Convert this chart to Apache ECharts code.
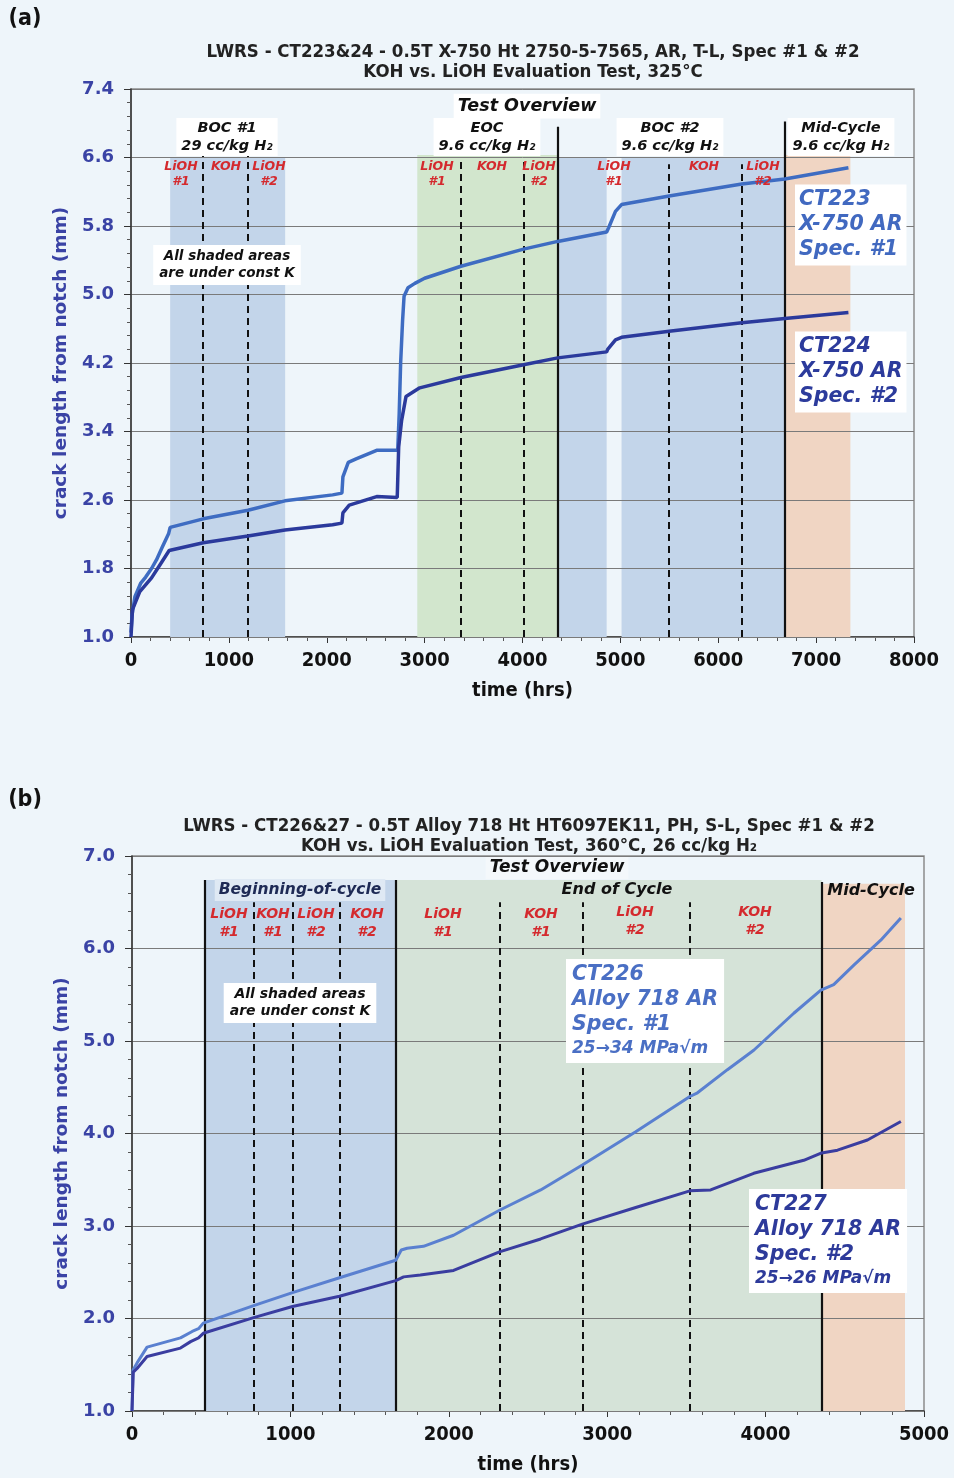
<!DOCTYPE html>
<html><head><meta charset="utf-8">
<script src="https://cdn.jsdelivr.net/npm/echarts@6/dist/echarts.min.js"></script>
<style>html,body{margin:0;padding:0;background:#eef5fa}#c{width:954px;height:1478px}</style>
</head><body><div id="c"></div>
<script>
// ---------------- Panel (a) data ----------------
const hrsCT223 = [0, 10, 40, 100, 150, 210, 260, 320, 385, 400, 738, 1195, 1573, 2060, 2155, 2165, 2220, 2300, 2510, 2725, 2740, 2755, 2775, 2790, 2830, 2900, 3000, 3371, 4011, 4360, 4860, 4880, 4950, 5012, 5498, 6241, 6680, 7330];
const mmCT223  = [1.05, 1.25, 1.47, 1.63, 1.70, 1.80, 1.90, 2.05, 2.21, 2.28, 2.38, 2.48, 2.59, 2.66, 2.68, 2.87, 3.04, 3.08, 3.18, 3.18, 3.60, 4.20, 4.70, 4.98, 5.08, 5.13, 5.19, 5.33, 5.53, 5.62, 5.73, 5.78, 5.97, 6.05, 6.15, 6.29, 6.35, 6.48];
const hrsCT224 = [0, 15, 90, 210, 300, 390, 738, 1195, 1573, 2060, 2155, 2165, 2230, 2510, 2720, 2735, 2765, 2810, 2950, 3371, 4011, 4360, 4860, 4870, 4950, 5012, 5498, 6241, 6680, 7330];
const mmCT224  = [1.0, 1.32, 1.53, 1.69, 1.85, 2.01, 2.10, 2.18, 2.25, 2.31, 2.33, 2.45, 2.54, 2.64, 2.63, 3.22, 3.53, 3.81, 3.91, 4.03, 4.18, 4.26, 4.33, 4.36, 4.47, 4.50, 4.57, 4.67, 4.72, 4.79];
const xTicksA = ['0', '1000', '2000', '3000', '4000', '5000', '6000', '7000', '8000'];
const yTicksA = ['1.0', '1.8', '2.6', '3.4', '4.2', '5.0', '5.8', '6.6', '7.4'];
// shaded periods: [start hrs, end hrs, top mm, kind]
const periodsA = [[400, 1575, 6.6, 'blue'], [2925, 4360, 6.63, 'green'], [4360, 4860, 6.6, 'blue'], [5012, 6680, 6.6, 'blue'], [6680, 7350, 6.63, 'orange']];
const dashedA = [[738, 6.63], [1195, 6.63], [3371, 6.57], [4011, 6.57], [5498, 6.52], [6241, 6.52]];
const solidA = [[4360, 6.96], [6680, 7.02]];

// ---------------- Panel (b) data ----------------
const hrsCT226 = [0, 6, 32, 95, 306, 380, 420, 450, 768, 1013, 1310, 1665, 1700, 1737, 1840, 2030, 2320, 2580, 2843, 3180, 3522, 3570, 3759, 3925, 4178, 4349, 4430, 4557, 4727, 4854];
const mmCT226  = [1.0, 1.44, 1.52, 1.69, 1.79, 1.86, 1.89, 1.95, 2.14, 2.28, 2.44, 2.63, 2.74, 2.76, 2.78, 2.90, 3.17, 3.39, 3.66, 4.02, 4.40, 4.44, 4.69, 4.90, 5.30, 5.55, 5.61, 5.82, 6.09, 6.33];
const hrsCT227 = [0, 8, 32, 95, 306, 370, 420, 450, 768, 1013, 1310, 1665, 1715, 1820, 2030, 2320, 2580, 2843, 3180, 3522, 3653, 3925, 4241, 4354, 4454, 4643, 4854];
const mmCT227  = [1.0, 1.42, 1.46, 1.59, 1.68, 1.75, 1.79, 1.84, 2.01, 2.13, 2.24, 2.41, 2.45, 2.47, 2.52, 2.72, 2.86, 3.02, 3.20, 3.38, 3.39, 3.57, 3.71, 3.79, 3.82, 3.93, 4.13];
const xTicksB = ['0', '1000', '2000', '3000', '4000', '5000'];
const yTicksB = ['1.0', '2.0', '3.0', '4.0', '5.0', '6.0', '7.0'];
const periodsB = [[460, 1665, 6.74, 'blue'], [1665, 4354, 6.74, 'greenB'], [4354, 4880, 6.7, 'orange']];
const dashedB = [[768, 6.5], [1015, 6.5], [1311, 6.5], [2320, 6.5], [2843, 6.5], [3522, 6.5]];
const solidB = [[460, 6.74], [1665, 6.74], [4354, 6.72]];

// ---------------- styles ----------------
const shade = { blue: '#c3d5ea', green: '#d2e6cd', greenB: '#d5e3d8', orange: '#f0d5c3' };
const zip = (a, b) => a.map((v, i) => [v, b[i]]);
const BI = 'DejaVu Sans';
const COND = 'DejaVu Sans Condensed';

function xAxisCfg(grid, ticks) {
  const lo = Number(ticks[0]), hi = Number(ticks[ticks.length - 1]);
  return {
    type: 'value', gridIndex: grid, min: lo, max: hi, interval: Number(ticks[1]) - lo,
    axisLine: { show: true, onZero: false, lineStyle: { color: '#333', width: 1.5 } },
    axisTick: { show: true, length: 6, lineStyle: { color: '#333' } },
    minorTick: { show: true, splitNumber: 5, length: 4, lineStyle: { color: '#555' } },
    splitLine: { show: false },
    axisLabel: { fontFamily: COND, fontWeight: 'bold', fontSize: 20, color: '#111', margin: 14,
      formatter: v => { const s = String(Math.round(v)); return ticks.indexOf(s) >= 0 ? s : ''; } },
    name: 'time (hrs)', nameLocation: 'middle', nameGap: 44,
    nameTextStyle: { fontFamily: COND, fontWeight: 'bold', fontSize: 20, color: '#111' }
  };
}
function yAxisCfg(grid, ticks) {
  const lo = parseFloat(ticks[0]), hi = parseFloat(ticks[ticks.length - 1]);
  const step = Math.round((parseFloat(ticks[1]) - lo) * 100) / 100;
  return {
    type: 'value', gridIndex: grid, min: lo, max: hi, interval: step, z: 3,
    axisLine: { show: true, lineStyle: { color: '#333', width: 1.5 } },
    axisTick: { show: true, length: 7, lineStyle: { color: '#333' } },
    minorTick: { show: true, splitNumber: 5, length: 4, lineStyle: { color: '#555' } },
    splitLine: { show: true, lineStyle: { color: '#7a7a7a', width: 1 } },
    axisLabel: { fontFamily: BI, fontWeight: 'bold', fontSize: 18, color: '#3a43a5', margin: 17,
      formatter: v => { const i = ticks.indexOf(v.toFixed(1)); return i >= 0 ? ticks[i] : ''; } },
    name: 'crack length from notch (mm)', nameLocation: 'middle', nameGap: 60,
    nameTextStyle: { fontFamily: BI, fontWeight: 'bold', fontSize: 18.5, color: '#3a43a5' }
  };
}
function markerSeries(ax, periods, dashed, solid, ymin) {
  return [{
    type: 'line', xAxisIndex: ax, yAxisIndex: ax, data: [], z: 1, silent: true, animation: false,
    markArea: { silent: true, z: 1, animation: false,
      data: periods.map(p => [{ xAxis: p[0], yAxis: ymin, itemStyle: { color: shade[p[3]] } }, { xAxis: p[1], yAxis: p[2] }]) }
  }, {
    type: 'line', xAxisIndex: ax, yAxisIndex: ax, data: [], z: 4, silent: true, animation: false,
    markLine: { silent: true, z: 4, animation: false, symbol: ['none', 'none'], label: { show: false },
      data: dashed.map(d => [{ coord: [d[0], ymin], lineStyle: { type: [7, 5], width: 2, color: '#111' } }, { coord: [d[0], d[1]] }])
        .concat(solid.map(d => [{ coord: [d[0], ymin], lineStyle: { type: 'solid', width: 2.2, color: '#111' } }, { coord: [d[0], d[1]] }])) }
  }];
}
function curve(ax, name, data, color, w) {
  return { type: 'line', name, xAxisIndex: ax, yAxisIndex: ax, data, z: 6, showSymbol: false, symbol: 'none',
    animation: false, lineStyle: { color, width: w }, itemStyle: { color } };
}

// ---------------- text annotations ----------------
function T(x, y, text, o) {
  o = o || {};
  return { type: 'text', x, y, z: 100, style: Object.assign({
    text, align: o.align || 'center', verticalAlign: 'middle',
    font: (o.italic === false ? '' : 'italic ') + 'bold ' + (o.size || 13) + 'px ' + (o.family || BI),
    fill: o.color || '#111', lineHeight: o.lh || (o.size || 13) * 1.3
  }, o.bg ? { backgroundColor: o.bg, padding: o.pad || [2, 5] } : {}, o.rich ? { rich: o.rich } : {}) };
}
const RED = '#d42a2e';
const graphics = [
  T(25, 19, '(a)', { italic: false, size: 23, family: COND }),
  T(533, 52, 'LWRS - CT223&24 - 0.5T X-750 Ht 2750-5-7565, AR, T-L, Spec #1 & #2', { italic: false, size: 18.5, family: COND, color: '#222' }),
  T(533, 72, 'KOH vs. LiOH Evaluation Test, 325°C', { italic: false, size: 18.5, family: COND, color: '#222' }),
  T(527, 106, 'Test Overview', { size: 17.5, bg: '#ffffff', pad: [1, 4] }),
  T(227, 137, 'BOC #1\n29 cc/kg H₂', { size: 14.5, lh: 18, bg: '#ffffff', pad: [1, 5] }),
  T(487, 137, 'EOC\n9.6 cc/kg H₂', { size: 14.5, lh: 18, bg: '#ffffff', pad: [1, 5] }),
  T(670, 137, 'BOC #2\n9.6 cc/kg H₂', { size: 14.5, lh: 18, bg: '#ffffff', pad: [1, 5] }),
  T(841, 137, 'Mid-Cycle\n9.6 cc/kg H₂', { size: 14.5, lh: 18, bg: '#ffffff', pad: [1, 5] }),
  T(181, 174, 'LiOH\n#1', { size: 12.5, lh: 15, color: RED }),
  T(226, 167, 'KOH', { size: 12.5, color: RED }),
  T(269, 174, 'LiOH\n#2', { size: 12.5, lh: 15, color: RED }),
  T(437, 174, 'LiOH\n#1', { size: 12.5, lh: 15, color: RED }),
  T(492, 167, 'KOH', { size: 12.5, color: RED }),
  T(539, 174, 'LiOH\n#2', { size: 12.5, lh: 15, color: RED }),
  T(614, 174, 'LiOH\n#1', { size: 12.5, lh: 15, color: RED }),
  T(704, 167, 'KOH', { size: 12.5, color: RED }),
  T(763, 174, 'LiOH\n#2', { size: 12.5, lh: 15, color: RED }),
  T(227, 265, 'All shaded areas\nare under const K', { size: 13.5, lh: 17, bg: '#ffffff', pad: [3, 6] }),
  T(795, 225, 'CT223\nX-750 AR\nSpec. #1', { align: 'left', size: 20.5, lh: 25, color: '#4169c0', bg: '#ffffff', pad: [3, 4] }),
  T(795, 372, 'CT224\nX-750 AR\nSpec. #2', { align: 'left', size: 20.5, lh: 25, color: '#2c3b9c', bg: '#ffffff', pad: [3, 4] }),

  T(25, 800, '(b)', { italic: false, size: 23, family: COND }),
  T(529, 826, 'LWRS - CT226&27 - 0.5T Alloy 718 Ht HT6097EK11, PH, S-L, Spec #1 & #2', { italic: false, size: 18.5, family: COND, color: '#222' }),
  T(529, 846, 'KOH vs. LiOH Evaluation Test, 360°C, 26 cc/kg H₂', { italic: false, size: 18.5, family: COND, color: '#222' }),
  T(557, 868, 'Test Overview', { size: 17, bg: '#f4f8fb', pad: [0, 4] }),
  T(300, 890, 'Beginning-of-cycle', { size: 15.5, color: '#1e2a55', bg: '#dfe9f4', pad: [1, 4] }),
  T(617, 890, 'End of Cycle', { size: 16 }),
  T(871, 891, 'Mid-Cycle', { size: 16 }),
  T(229, 923, 'LiOH\n#1', { size: 14, lh: 18, color: RED }),
  T(273, 923, 'KOH\n#1', { size: 14, lh: 18, color: RED }),
  T(316, 923, 'LiOH\n#2', { size: 14, lh: 18, color: RED }),
  T(367, 923, 'KOH\n#2', { size: 14, lh: 18, color: RED }),
  T(443, 923, 'LiOH\n#1', { size: 14, lh: 18, color: RED }),
  T(541, 923, 'KOH\n#1', { size: 14, lh: 18, color: RED }),
  T(635, 921, 'LiOH\n#2', { size: 14, lh: 18, color: RED }),
  T(755, 921, 'KOH\n#2', { size: 14, lh: 18, color: RED }),
  T(300, 1003, 'All shaded areas\nare under const K', { size: 14, lh: 17, bg: '#ffffff', pad: [3, 6] }),
  T(566, 1011, '{a|CT226}\n{a|Alloy 718 AR}\n{a|Spec. #1}\n{b|25→34 MPa√m}', { align: 'left', size: 20, lh: 25, color: '#4a6fc4', bg: '#ffffff', pad: [3, 6],
    rich: { a: { font: 'italic bold 20.5px ' + BI, fill: '#4a6fc4', lineHeight: 25 }, b: { font: 'italic bold 17px ' + BI, fill: '#4a6fc4', lineHeight: 23 } } }),
  T(749, 1241, '{a|CT227}\n{a|Alloy 718 AR}\n{a|Spec. #2}\n{b|25→26 MPa√m}', { align: 'left', size: 20, lh: 25, color: '#2d3a9a', bg: '#ffffff', pad: [3, 6],
    rich: { a: { font: 'italic bold 20.5px ' + BI, fill: '#2d3a9a', lineHeight: 25 }, b: { font: 'italic bold 17px ' + BI, fill: '#2d3a9a', lineHeight: 23 } } })
];

const chart = echarts.init(document.getElementById('c'), null, { renderer: 'canvas' });
chart.setOption({
  backgroundColor: '#eef5fa',
  animation: false,
  grid: [
    { left: 131, top: 89, width: 783, height: 548, show: true, borderColor: '#8c8c8c', borderWidth: 1.5, backgroundColor: 'transparent' },
    { left: 132, top: 856, width: 792, height: 555, show: true, borderColor: '#8c8c8c', borderWidth: 1.5, backgroundColor: 'transparent' }
  ],
  xAxis: [xAxisCfg(0, xTicksA), xAxisCfg(1, xTicksB)],
  yAxis: [yAxisCfg(0, yTicksA), yAxisCfg(1, yTicksB)],
  series: [].concat(
    markerSeries(0, periodsA, dashedA, solidA, parseFloat(yTicksA[0])),
    markerSeries(1, periodsB, dashedB, solidB, parseFloat(yTicksB[0])),
    [curve(0, 'CT223', zip(hrsCT223, mmCT223), '#3e6cc2', 3.5),
     curve(0, 'CT224', zip(hrsCT224, mmCT224), '#2b3a9c', 3.5),
     curve(1, 'CT226', zip(hrsCT226, mmCT226), '#5a80d0', 3),
     curve(1, 'CT227', zip(hrsCT227, mmCT227), '#3a3da0', 3)]
  ),
  graphic: graphics
});
</script></body></html>
